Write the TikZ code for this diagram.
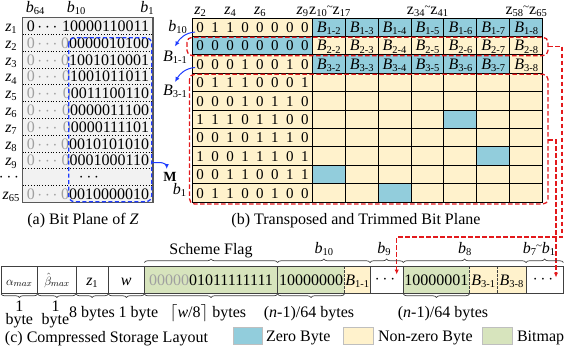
\documentclass[tikz,border=0pt]{standalone}
\usepackage{fontspec}
\setmainfont{Liberation Serif}
\usetikzlibrary{decorations.pathreplacing,arrows.meta}
\definecolor{zb}{HTML}{92CDDC}
\definecolor{nz}{HTML}{FFF2CC}
\definecolor{bm}{HTML}{D7E4BD}
\definecolor{pg}{HTML}{F2F2F2}
\definecolor{rd}{HTML}{E3191C}
\definecolor{bl}{HTML}{1E3CFF}
\definecolor{gt}{HTML}{A0A0A0}
\newcommand\sbx[1]{\raisebox{-0.3ex}{\fontsize{10.5}{10.5}\selectfont #1}}
\newcommand\zz[1]{\textit{z}\sbx{#1}}
\newcommand\zr[1]{z\sbx{#1}}
\newcommand\bbb[1]{\textit{b}\sbx{#1}}
\newcommand\BB[1]{\textit{B}\sbx{#1}}
\newcommand\tld{\raisebox{0.45ex}{\fontsize{11}{11}\selectfont\textasciitilde}}
\newcommand\dts{\ensuremath{\cdots}}
\begin{document}
\begin{tikzpicture}[x=1pt,y=-1pt,
  every node/.style={inner sep=0pt,outer sep=0pt,anchor=base,font=\fontsize{16}{18}\selectfont},
  gridline/.style={line width=0.9pt,black},
  reddash/.style={rd,line width=1.3pt,dash pattern=on 4.5pt off 2.5pt},
  bluedash/.style={bl,line width=1.3pt,dash pattern=on 4pt off 2.5pt},
  brc/.style={decorate,decoration={brace,amplitude=3.5pt},line width=0.7pt,black!75},
  cellline/.style={line width=0.9pt,black!75},
  arr/.style={-{Latex[length=5pt,width=4.5pt]}},
  gdig/.style={font=\fontsize{15}{17}\selectfont},
]
\useasboundingbox (0,0) rectangle (565,348);

% ---------------- (a) bit plane ----------------
\path[fill=pg] (22.5,17.5) rectangle (153,202.5);
\foreach \k in {1,...,10}
  \draw[dotted,line width=0.8pt] (22.5,{17.5+\k*16.82}) -- (153,{17.5+\k*16.82});
\draw[black!65,line width=1.3pt] (22.5,17.5) rectangle (153,202.5);

\node (hb64) at (35,12.5) {\bbb{64}};
\node (hb10) at (76,12.5) {\bbb{10}};
\node (hb1) at (147,12.5) {\bbb{1}};

% row 1
\node (zl1) at (11,{17.5+0.5*16.82+5.5}) {\zz{1}};
\node (za1) at (31,{17.5+0.5*16.82+5.5}) {0};
\node (zc1) at (47.5,{17.5+0.5*16.82+5.5}) {\dts};
\node[anchor=base east] (zb1) at (149,{17.5+0.5*16.82+5.5}) {10000110011};
% rows 2..9 and 65
\foreach \k/\lab/\bits in {2/2/0000010100,3/3/1001010001,4/4/1001011011,5/5/0011100110,
  6/6/0000011100,7/7/0000111101,8/8/0010101010,9/9/0001000110,11/65/0010000010}{
  \node (zl\k) at (11,{17.5+(\k-0.5)*16.82+5.5}) {\zz{\lab}};
  \node (za\k) at (31,{17.5+(\k-0.5)*16.82+5.5}) {\color{gt}0};
  \node (zc\k) at (47.5,{17.5+(\k-0.5)*16.82+5.5}) {\color{gt}\dts};
  \node[anchor=base east] (zb\k) at (149,{17.5+(\k-0.5)*16.82+5.5}) {{\color{gt}0}\bits};
}
\node (zl10) at (9,{17.5+9.5*16.82+4}) {\dts};
\node (zb10) at (89,{17.5+9.5*16.82+4}) {\dts};

\draw[bluedash,rounded corners=6pt] (68.7,37.7) rectangle (151.7,201.7);
\coordinate (m0) at (152.2,162.5);
\coordinate (m1) at (166.7,169);
\draw[bl,line width=1pt,arr] (m0) -- (160,162.5) to[out=0,in=90] (m1);
\node[font=\bfseries\fontsize{14}{16}\selectfont] (M) at (170,181.5) {M};
\node (capa) at (83,224) {(a) Bit Plane of \textit{Z}};

% ---------------- (b) transposed grid ----------------
\def\gx{192.7}\def\bx{312.3}\def\cw{32.91}\def\dw{14.95}\def\gy{18}\def\rh{18.4}\def\gr{542.67}
\fill[nz] (\gx,\gy) rectangle (\gr,202);
\fill[zb] (\gx,36.4) rectangle (\bx,54.8);
\fill[zb] (\bx,18) rectangle (\gr,36.4);
\fill[zb] (\bx,54.8) rectangle ({\bx+6*\cw},73.2);
\foreach \r/\c in {6/5,8/6,9/1,10/3}
  \fill[zb] ({\bx+(\c-1)*\cw},{\gy+(\r-1)*\rh}) rectangle ++(\cw,\rh);
\foreach \r in {1,...,9} \draw[gridline] (\gx,{\gy+\r*\rh}) -- (\gr,{\gy+\r*\rh});
\foreach \c in {0,...,6} \draw[gridline] ({\bx+\c*\cw},\gy) -- ({\bx+\c*\cw},202);
\draw[gridline] (\gx,\gy) rectangle (\gr,202);

\foreach \r/\bits in {1/{0,1,1,0,0,0,0,0},2/{0,0,0,0,0,0,0,0},3/{0,0,0,1,0,0,1,0},
  4/{0,1,1,1,0,0,0,1},5/{0,0,0,1,0,1,1,0},6/{1,1,1,0,1,1,0,0},7/{0,0,1,0,1,1,1,0},
  8/{1,0,0,1,1,1,0,1},9/{0,0,1,1,0,0,1,1},10/{0,1,1,0,0,1,0,0}}{
  \foreach \d [count=\c] in \bits
    \node[gdig] (d\r-\c) at ({\gx+(\c-0.5)*\dw},{\gy+(\r-0.5)*\rh+5.3}) {\d};
}
\foreach \r in {1,2,3}
  \foreach \c in {2,...,8}
    \node (B\r-\c) at ({\bx+(\c-1.5)*\cw},{\gy+(\r-0.5)*\rh+5.3}) {\BB{\r-\c}};

\node (hz2) at ({\gx+0.5*\dw},14) {\zz{2}};
\node (hz4) at ({\gx+2.5*\dw},14) {\zz{4}};
\node (hz6) at ({\gx+4.5*\dw},14) {\zz{6}};
\node (hz9) at ({\gx+7.5*\dw-2.5},14) {\zz{9}};
\node (hzA) at ({\bx+0.5*\cw+1},14) {\zr{10}\tld\zr{17}};
\node (hzB) at ({\bx+3.5*\cw},14) {\zr{34}\tld\zr{41}};
\node (hzC) at ({\bx+6.5*\cw},14) {\zr{58}\tld\zr{65}};

\node (lb10) at (177.5,31.7) {\bbb{10}};
\node (lB11) at (175,61.7) {\BB{1-1}};
\node (lB31) at (175,95) {\BB{3-1}};
\node (lb1) at (179.5,194) {\bbb{1}};
\coordinate (a1s) at (195,32);
\coordinate (a1e) at (175,46.5);
\coordinate (a2s) at (195,67.5);
\coordinate (a2e) at (175,82);
\draw[bl,line width=1pt,arr] (a1s) to[out=185,in=60] (a1e);
\draw[bl,line width=1pt,arr] (a2s) to[out=185,in=60] (a2e);

\draw[reddash,rounded corners=5pt] (187,37.3) rectangle (548,55.6);
\draw[reddash,rounded corners=5pt] (189.5,74.3) rectangle (548,204);

\node (capb) at (356,224) {(b) Transposed and Trimmed Bit Plane};

% ---------------- (c) compressed layout ----------------
\fill[bm] (144.3,266) rectangle (344.3,293);
\fill[nz] (344.3,266) rectangle (370,293);
\fill[bm] (403.3,266) rectangle (469.3,293);
\fill[nz] (469.3,266) rectangle (526,293);
\draw[cellline] (1,266) rectangle (563.3,293);
\foreach \x in {37.7,76,108.3,144.3,277.7,370,403.3,526}
  \draw[cellline] (\x,266) -- (\x,293);
\foreach \x in {344.3,469.3,497.3}
  \draw[cellline,dashed,dash pattern=on 2.5pt off 1.5pt] (\x,266) -- (\x,293);

\node (c1) at (19.3,285) {\fontsize{13}{15}\selectfont$\alpha_{max}$};
\node (c2) at (57,285) {\fontsize{13}{15}\selectfont$\hat{\beta}_{max}$};
\node (c3) at (92,285) {\zz{1}};
\node (c4) at (126.3,285) {\textit{w}};
\node (c5) at (211,285) {{\color{gt}00000}01011111111};
\node (c6) at (311,285) {10000000};
\node (c7) at (357.2,285) {\BB{1-1}};
\node (c8) at (385,283) {\dts};
\node (c9) at (436.3,285) {10000001};
\node (c10) at (483.3,285) {\BB{3-1}};
\node (c11) at (511.6,285) {\BB{3-8}};
\node (c12) at (543,283) {\dts};

% red connectors
\coordinate (r1a) at (548,46.5);
\coordinate (r1b) at (562,46.5);
\coordinate (r1c) at (562,237);
\coordinate (r1d) at (396.7,237);
\coordinate (r1e) at (396.7,274.5);
\draw[reddash,arr] (r1a) -- (r1b) -- (r1c) -- (r1d) -- (r1e);
\coordinate (r2a) at (548,140);
\coordinate (r2b) at (556,140);
\coordinate (r2c) at (556,277.5);
\draw[reddash,arr] (r2a) -- (r2b) -- (r2c);

% top braces
\draw[brc] (144.3,262.5) -- (277.7,262.5);
\draw[brc] (277.7,262.5) -- (370,262.5);
\draw[brc] (370,262.5) -- (403.3,262.5);
\draw[brc] (403.3,262.5) -- (526,262.5);
\draw[brc] (526,262.5) -- (563.3,262.5);
\node (tSF) at (211,254) {Scheme Flag};
\node (tb10) at (323.8,253) {\bbb{10}};
\node (tb9) at (384,253) {\bbb{9}};
\node (tb8) at (464.7,253) {\bbb{8}};
\node (tb71) at (539,253) {\bbb{7}\tld\bbb{1}};

% bottom braces
\draw[brc] (37.7,294) -- (1,294);
\draw[brc] (76,294) -- (37.7,294);
\draw[brc] (108.3,294) -- (76,294);
\draw[brc] (144.3,294) -- (108.3,294);
\draw[brc] (277.7,294) -- (144.3,294);
\draw[brc] (344.3,294) -- (277.7,294);
\draw[brc] (469.3,294) -- (403.3,294);
\node (s1a) at (19.3,311.5) {1};
\node (s1b) at (19.3,324) {byte};
\node (s2a) at (55.5,311.5) {1};
\node (s2b) at (55.5,324) {byte};
\node (s3) at (92,317) {8 bytes};
\node (s4) at (138.5,317) {1 byte};
\node (s5) at (208,317) {$\lceil$\textit{w}/8$\rceil$ bytes};
\node (s6) at (309,317) {(\textit{n}-1)/64 bytes};
\node (s7) at (443,317) {(\textit{n}-1)/64 bytes};

% legend
\node[anchor=base west] (capc) at (5,342) {(c) Compressed Storage Layout};
\draw[fill=zb,draw=black!25,line width=0.4pt] (233.3,326.7) rectangle (261.7,344.3);
\node[anchor=base west] (lz) at (266,341) {Zero Byte};
\draw[fill=nz,draw=black!25,line width=0.4pt] (343.3,326.7) rectangle (372.7,344.3);
\node[anchor=base west] (ln) at (378,341) {Non-zero Byte};
\draw[fill=bm,draw=black!25,line width=0.4pt] (481.7,326.7) rectangle (511.7,344.3);
\node[anchor=base west] (lbm) at (517,341) {Bitmap};
\end{tikzpicture}
\end{document}
